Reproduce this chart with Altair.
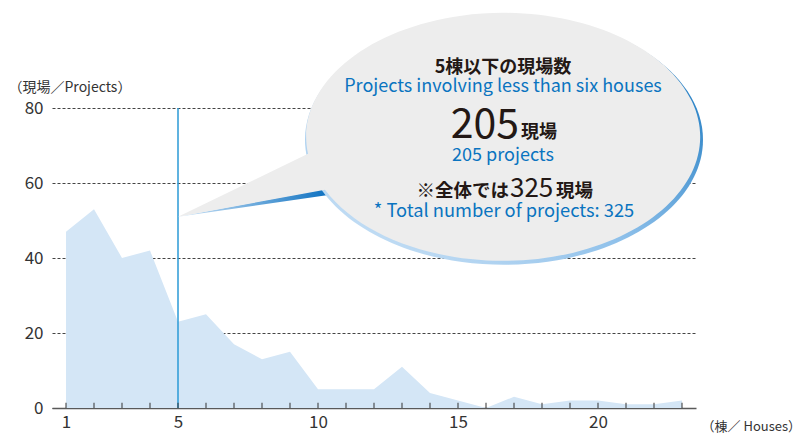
import altair as alt
import pandas as pd

# ---- data ----
houses = list(range(1, 24))
projects = [47, 53, 40, 42, 23, 25, 17, 13, 15, 5, 5, 5, 11, 4, 2, 0, 3, 1, 2, 2, 1, 1, 2]
y_ticks = [0, 20, 40, 60, 80]
x_labels = [1, 5, 10, 15, 20]
threshold = [5]            # "5 houses or fewer" marker
bubble_anchor = [51]       # y value where the callout tail touches the marker
texts = [
    "5棟以下の現場数",
    "Projects involving less than six houses",
    "205",
    "現場",
    "205 projects",
    "※全体では",
    "325",
    "現場",
    "* Total number of projects: 325",
]

FONT = "Noto Sans CJK JP"
DARK = "#231815"
BLUE = "#0a74c0"

df = pd.DataFrame({"houses": houses, "projects": projects})
df["zero"] = 0
df["tick"] = 1.4

xscale = alt.Scale(domain=[0.5, 23.5], nice=False, zero=False)
yscale = alt.Scale(domain=[0, 80], nice=False)

area = alt.Chart(df).mark_area(color="#d4e6f6", opacity=1, interpolate="linear").encode(
    x=alt.X("houses:Q", scale=xscale,
            axis=alt.Axis(values=x_labels, ticks=False, grid=False, domainColor="#595959",
                          domainWidth=1.5, labelFontSize=17, labelColor="#333333", labelFont=FONT,
                          labelPadding=6, labelFlush=False,
                          title="（棟／ Houses）", titleX=649, titleY=18, titleAlign="left",
                          titleBaseline="middle", titleFontWeight="normal", titleFontSize=13,
                          titleFont=FONT, titleColor="#333333")),
    y=alt.Y("projects:Q", scale=yscale,
            axis=alt.Axis(values=y_ticks, ticks=False, domain=False, grid=True,
                          gridDash=[3, 2], gridColor="#444444", gridWidth=1,
                          labelFontSize=17, labelColor="#333333", labelFont=FONT, labelPadding=9,
                          title="（現場／Projects）", titleAngle=0, titleX=-44, titleY=-21,
                          titleAlign="left", titleBaseline="middle", titleFontWeight="normal",
                          titleFontSize=14, titleFont=FONT, titleColor="#333333")),
)

ticks = alt.Chart(df).mark_rule(color="#333333", strokeWidth=1).encode(
    x=alt.X("houses:Q", scale=xscale),
    y=alt.Y("zero:Q", scale=yscale),
    y2="tick:Q",
)

mdf = pd.DataFrame({"x": threshold, "y0": [y_ticks[0]], "y1": [y_ticks[-1]], "ya": bubble_anchor})

vline = alt.Chart(mdf).mark_rule(color="#2b9ad6", strokeWidth=1.5).encode(
    x=alt.X("x:Q", scale=xscale),
    y=alt.Y("y0:Q", scale=yscale),
    y2="y1:Q",
)

# callout bubble shapes (custom symbol paths, size=4 -> 1 unit = 1 px), anchored at the tail tip
GRAY_PATH = "M0,0 L130,-63 A197,124 0 1,1 147,-27 Z"
ELL_SHADOW = "M127,-77 A199,125 0 1,1 525,-77 A199,125 0 1,1 127,-77 Z"
TAIL_SHADOW = "M0,0 L148,-28 L152,-22 Z"

def shape(path, fill):
    return alt.Chart(mdf).mark_point(shape=path, size=4, filled=True, opacity=1,
                                     fill=fill, strokeWidth=0).encode(
        x=alt.X("x:Q", scale=xscale),
        y=alt.Y("ya:Q", scale=yscale),
    )

ell_grad = alt.Gradient(
    gradient="linear",
    stops=[alt.GradientStop(color="#d6e8f8", offset=0),
           alt.GradientStop(color="#8ec0ea", offset=0.45),
           alt.GradientStop(color="#0068b7", offset=1)],
    x1=0, y1=1, x2=1, y2=0,
)
tail_grad = alt.Gradient(
    gradient="linear",
    stops=[alt.GradientStop(color="#cfe5f8", offset=0),
           alt.GradientStop(color="#0a6fc0", offset=1)],
    x1=0, y1=0, x2=1, y2=0,
)

shadow_ell = shape(ELL_SHADOW, ell_grad)
shadow_tail = shape(TAIL_SHADOW, tail_grad)
bubble = shape(GRAY_PATH, "#ededed")


def label(txt, x, y, size, color, align="center", baseline="middle", weight="normal"):
    return alt.Chart(pd.DataFrame({"t": [txt]})).mark_text(
        x=x, y=y, fontSize=size, color=color, align=align, baseline=baseline,
        font=FONT, fontWeight=weight,
    ).encode(text="t:N")


labels = [
    label(texts[0], 451, -40, 18, DARK, weight="bold"),
    label(texts[1], 451, -21, 18, BLUE),
    label(texts[2], 467, 30, 41, DARK, align="right", baseline="alphabetic"),
    label(texts[3], 469, 30, 18, DARK, align="left", baseline="alphabetic", weight="bold"),
    label(texts[4], 451, 48, 18, BLUE),
    label(texts[5], 457, 89, 18.5, DARK, align="right", baseline="alphabetic", weight="bold"),
    label(texts[6], 458, 89, 26, DARK, align="left", baseline="alphabetic"),
    label(texts[7], 504, 89, 18.5, DARK, align="left", baseline="alphabetic", weight="bold"),
    label(texts[8], 452, 104, 18.3, BLUE),
]

chart = alt.layer(area, vline, ticks, shadow_tail, shadow_ell, bubble, *labels).properties(
    width=644, height=300,
    autosize=alt.AutoSizeParams(type="none"),
    padding={"left": 44, "top": 100, "right": 104, "bottom": 28},
    background="white",
).configure_view(stroke=None)

chart.save("out.html", embed_options={"renderer": "svg", "actions": False})
